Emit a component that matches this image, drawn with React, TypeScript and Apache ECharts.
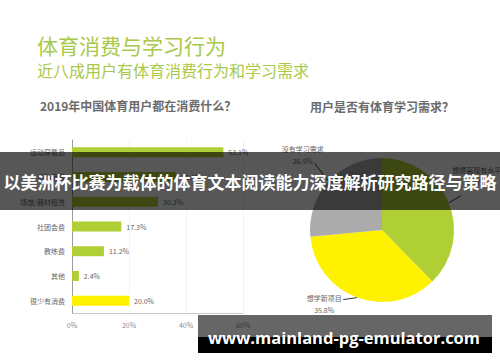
import React, { useEffect, useRef } from "react";
import * as echarts from "echarts";

const barCategories = ["运动穿戴品", "运动用具", "场馆/器材租赁", "社团会费", "教练费", "其他", "很少有消费"];
const barValues = [53.1, 36.6, 30.2, 17.3, 11.2, 2.4, 20.0];
const barColors = ["#b0cf34", "#b0cf34", "#b0cf34", "#b0cf34", "#b0cf34", "#b0cf34", "#fff200"];
const xTicks = [0, 20, 40, 60];

const pieNames = ["想提高现有水平", "想学新项目", "没有学习需求"];
const pieValues = [37.7, 35.8, 26.5];
const pieColors = ["#b0cf34", "#fff200", "#ababab"];

const titleText = "体育消费与学习行为";
const subtitleText = "近八成用户有体育消费行为和学习需求";
const leftTitle = "2019年中国体育用户都在消费什么？";
const rightTitle = "用户是否有体育学习需求？";
const bannerText = "以美洲杯比赛为载体的体育文本阅读能力深度解析研究路径与策略";
const watermarkText = "www.mainland-pg-emulator.com";

const CJK = '"Noto Sans CJK SC", "Noto Sans", sans-serif';

// layout: label line end offsets (from slice edge) and label anchor offsets (from line end)
const lineEndOffset = [
  [12, -7],
  [-14, 2],
  [-14, -18],
];
const labelAnchorOffset = [
  [16, -8, "bottom"],
  [-19, 4, "middle"],
  [-12, 3, "bottom"],
];

export default function App() {
  const ref = useRef<HTMLDivElement>(null);
  useEffect(() => {
    if (!ref.current) return;
    const chart = echarts.init(ref.current, undefined, { renderer: "svg" });
    const option: any = {
      animation: false,
      backgroundColor: "#ffffff",
      textStyle: { fontFamily: CJK },
      grid: { left: 72, right: 257, top: 140, bottom: 49, containLabel: false },
      xAxis: {
        type: "value",
        min: 0,
        max: 60,
        interval: 20,
        axisLine: { show: true, lineStyle: { color: "#c8c8c8", width: 1 } },
        axisTick: { show: false },
        splitLine: { show: true, lineStyle: { color: "#f3f3f3" } },
        axisLabel: {
          color: "#8a8a8a",
          fontSize: 7,
          margin: 8,
          formatter: (v: number) => (xTicks.includes(v) ? v + "%" : ""),
        },
      },
      yAxis: {
        type: "category",
        inverse: true,
        data: barCategories,
        axisLine: { show: true, lineStyle: { color: "#9a9a9a", width: 1 } },
        axisTick: { show: false },
        axisLabel: { color: "#666", fontSize: 7, margin: 7 },
      },
      series: [
        {
          type: "bar",
          barWidth: 10,
          data: barValues.map((v, i) => ({ value: v, itemStyle: { color: barColors[i] } })),
          label: {
            show: true,
            position: "right",
            distance: 5,
            fontSize: 7,
            color: "#666",
            formatter: (p: any) => p.value.toFixed(1) + "%",
          },
        },
        {
          type: "pie",
          center: [382, 230],
          radius: 72,
          startAngle: 90,
          clockwise: true,
          data: pieNames.map((n, i) => ({ name: n, value: pieValues[i], itemStyle: { color: pieColors[i] } })),
          label: {
            show: true,
            position: "outside",
            fontSize: 7,
            color: "#666",
            lineHeight: 12,
            align: "center",
            overflow: "none",
            formatter: (p: any) => p.name + "\n" + p.value.toFixed(1) + "%",
          },
          labelLine: { show: true, length: 14, length2: 0, lineStyle: { color: "#333", width: 1 } },
          labelLayout: (params: any) => {
            const i = params.dataIndex;
            const pts = params.labelLinePoints;
            if (!pts) return {};
            const p0 = pts[0];
            const end = [p0[0] + lineEndOffset[i][0], p0[1] + lineEndOffset[i][1]];
            const a = labelAnchorOffset[i];
            return {
              x: end[0] + (a[0] as number),
              y: end[1] + (a[1] as number),
              align: "center",
              verticalAlign: a[2],
              labelLinePoints: [p0, end, end],
            };
          },
        },
      ],
      graphic: [
        {
          type: "text",
          left: 37,
          top: 34,
          style: { text: titleText, fill: "#a9c94a", font: `21px ${CJK}` },
        },
        {
          type: "text",
          left: 37,
          top: 62,
          style: { text: subtitleText, fill: "#a9c94a", font: `16px ${CJK}` },
        },
        {
          type: "text",
          left: 40,
          top: 99,
          style: { text: leftTitle, fill: "#6b6b6b", font: `bold 12px ${CJK}` },
        },
        {
          type: "text",
          left: 310,
          top: 100,
          style: { text: rightTitle, fill: "#6b6b6b", font: `bold 12px ${CJK}` },
        },
        {
          type: "rect",
          shape: { x: 0, y: 152, width: 500, height: 58 },
          style: { fill: "rgba(0,0,0,0.66)" },
          z: 100,
        },
        {
          type: "text",
          x: 250,
          y: 181,
          z: 101,
          style: {
            text: bannerText,
            fill: "#ffffff",
            font: `bold 17px ${CJK}`,
            align: "center",
            verticalAlign: "middle",
          },
        },
        {
          type: "rect",
          shape: { x: 198, y: 315, width: 294, height: 22 },
          style: { fill: "rgba(0,0,0,0.6)" },
          z: 100,
        },
        {
          type: "rect",
          shape: { x: 198, y: 337, width: 294, height: 16 },
          style: { fill: "#000000" },
          z: 100,
        },
        {
          type: "text",
          x: 344,
          y: 337,
          z: 101,
          style: {
            text: watermarkText,
            fill: "#ffffff",
            font: `bold 16.5px "Open Sans", sans-serif`,
            align: "center",
            verticalAlign: "middle",
          },
        },
      ],
    };
    chart.setOption(option);
    return () => chart.dispose();
  }, []);
  return <div ref={ref} style={{ width: 500, height: 362, position: "absolute", left: 0, top: 0 }} />;
}
